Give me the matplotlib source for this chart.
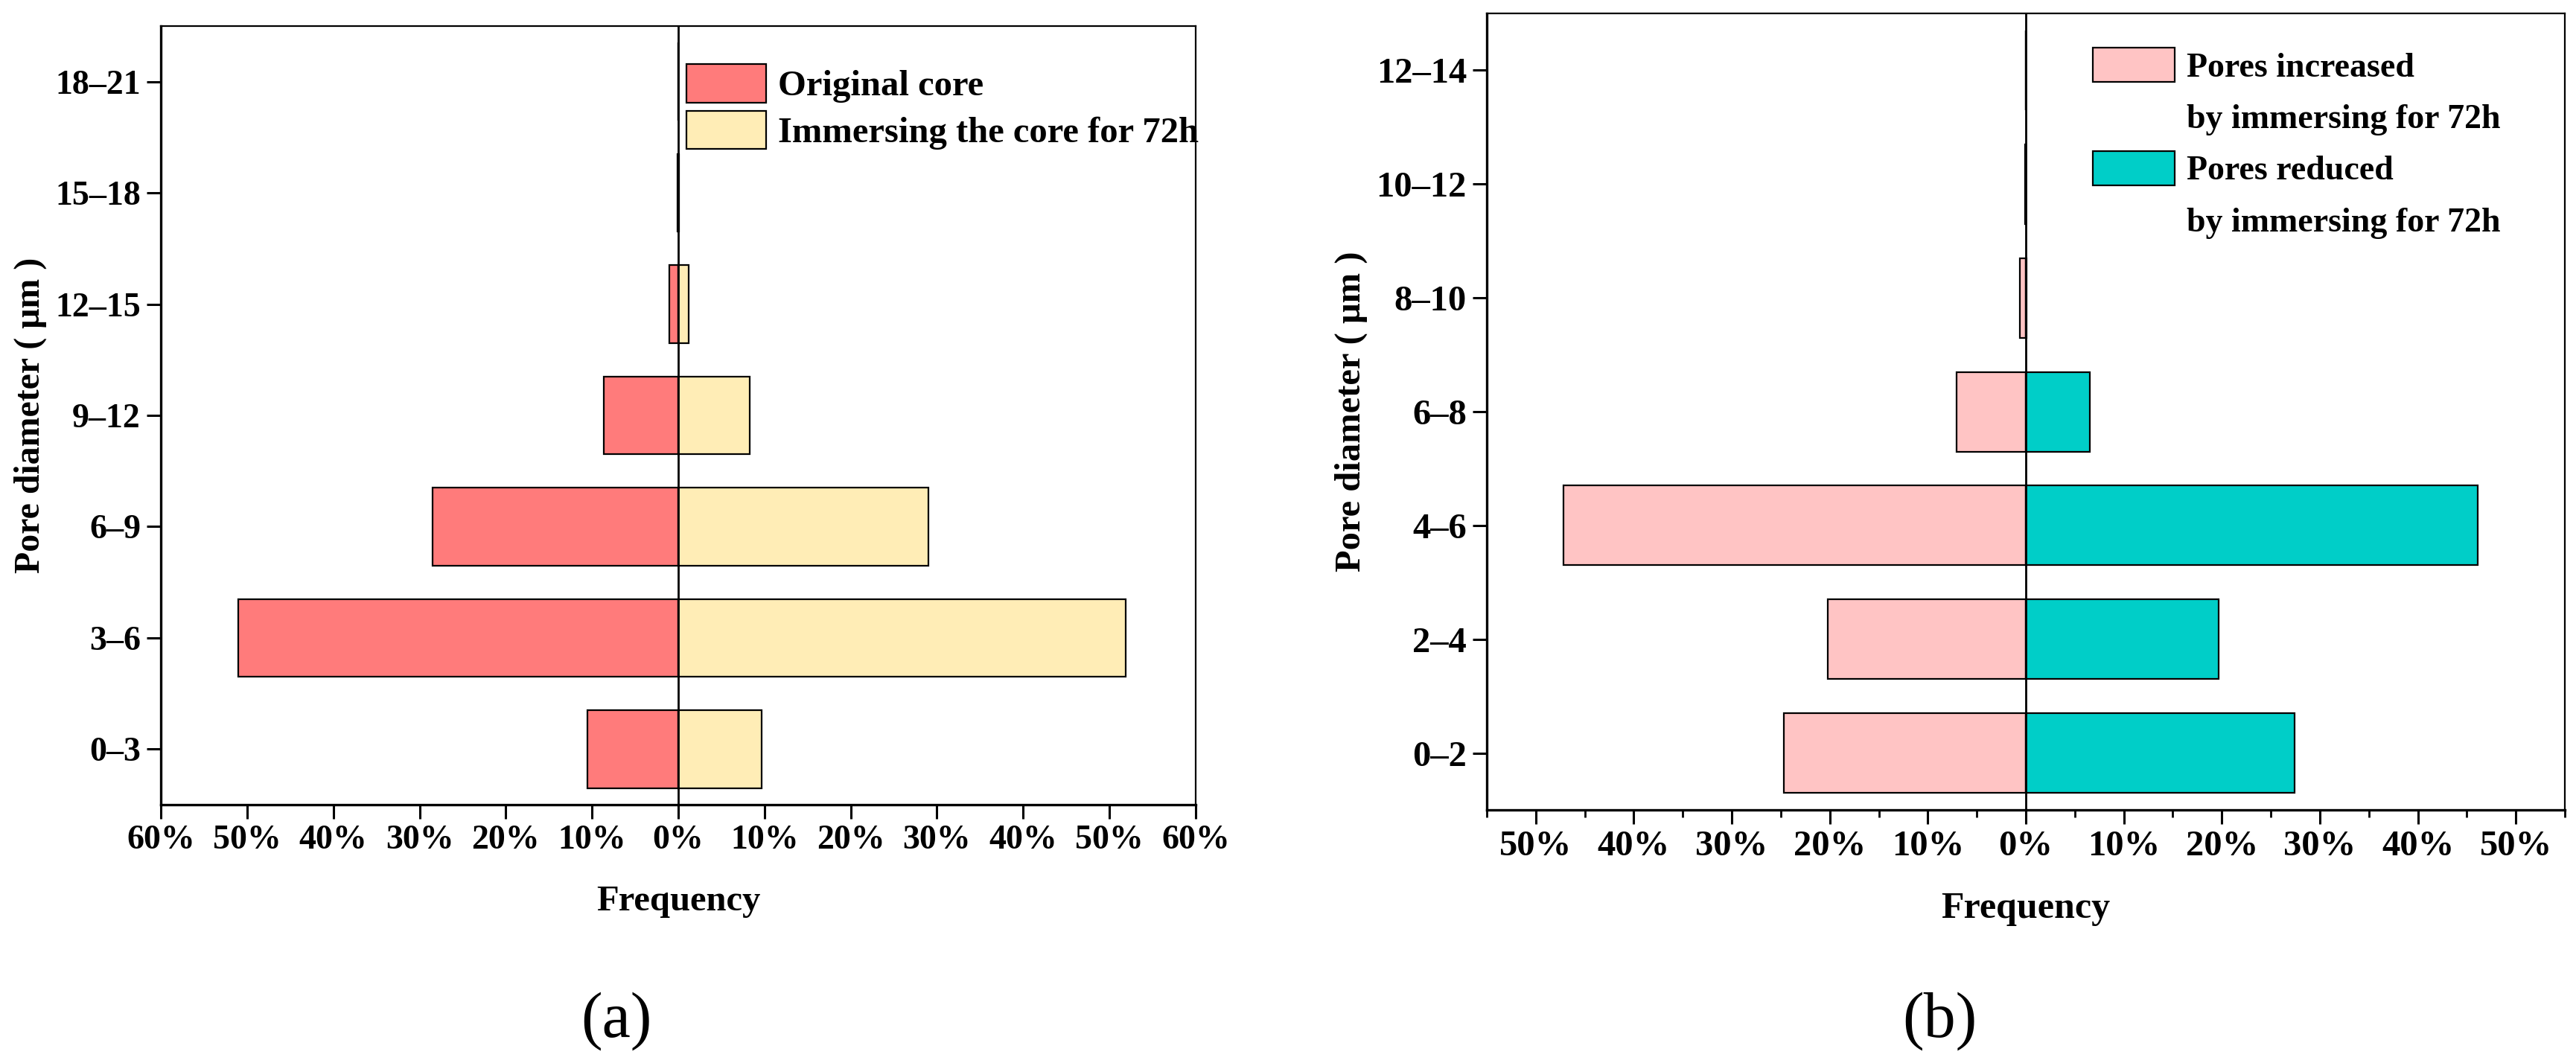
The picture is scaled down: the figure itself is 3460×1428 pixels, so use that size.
import matplotlib
matplotlib.use("Agg")
import matplotlib.pyplot as plt
import numpy as np
from matplotlib.ticker import FuncFormatter, MultipleLocator
from matplotlib.patches import Patch

# ---------------- data ----------------
a_categories = ['0–3', '3–6', '6–9', '9–12', '12–15', '15–18', '18–21']
a_original = [10.5, 51.0, 28.5, 8.6, 1.0, 0.1, 0.0]
a_immersed = [9.7, 51.9, 29.0, 8.3, 1.2, 0.1, 0.0]
a_labels = ['Original core', 'Immersing the core for 72h']

b_categories = ['0–2', '2–4', '4–6', '6–8', '8–10', '10–12', '12–14']
b_increased = [24.7, 20.2, 47.2, 7.1, 0.6, 0.05, 0.0]
b_reduced = [27.4, 19.7, 46.1, 6.5, 0.1, 0.0, 0.0]
b_labels = ['Pores increased', 'by immersing for 72h', 'Pores reduced', 'by immersing for 72h']

plt.rcParams['font.family'] = ['Liberation Serif', 'DejaVu Serif']
plt.rcParams['font.weight'] = 'bold'

W, H = 3460, 1428
fig = plt.figure(figsize=(W / 100, H / 100), dpi=100)

def px_axes(l, t, r, b):
    return fig.add_axes([l / W, 1 - b / H, (r - l) / W, (b - t) / H])

ax_a = px_axes(216, 35, 1606, 1081)
ax_b = px_axes(1997, 18, 3445, 1088)

pct = FuncFormatter(lambda v, p: f"{abs(v):.0f}%")

def style(ax, xlim, xtick_fs, ytick_fs, minor):
    ax.set_xlim(-xlim, xlim)
    ax.set_ylim(-0.5, 6.5)
    ax.xaxis.set_major_locator(MultipleLocator(10))
    if minor:
        ax.xaxis.set_minor_locator(MultipleLocator(5))
    ax.xaxis.set_major_formatter(pct)
    ax.tick_params(axis='both', which='major', direction='out', length=13.5, width=2.2,
                   pad=6, top=False, right=False)
    ax.tick_params(axis='x', which='minor', direction='out', length=7, width=2.0, top=False)
    ax.tick_params(axis='x', labelsize=xtick_fs)
    ax.tick_params(axis='y', labelsize=ytick_fs)
    for lab in ax.get_xticklabels() + ax.get_yticklabels():
        lab.set_fontweight('bold')
    for s in ['left', 'bottom']:
        ax.spines[s].set_linewidth(2.4)
    for s in ['top', 'right']:
        ax.spines[s].set_linewidth(1.6)
    ax.axvline(0, color='black', lw=2.0, zorder=3)

# ---------------- panel a ----------------
ya = np.arange(len(a_categories))
ax_a.barh(ya, [-v for v in a_original], height=0.7, color='#FF7B7B', edgecolor='black',
          linewidth=1.6, label=a_labels[0], zorder=2)
ax_a.barh(ya, a_immersed, height=0.7, color='#FFEDB6', edgecolor='black',
          linewidth=1.6, label=a_labels[1], zorder=2)
ax_a.set_yticks(ya)
ax_a.set_yticklabels(a_categories)
style(ax_a, 60, 33, 33, False)
ax_a.set_xlabel('Frequency', fontsize=35, fontweight='bold', labelpad=28)
ax_a.set_ylabel('Pore diameter ( μm )', fontsize=34.5, fontweight='bold', labelpad=8)
leg_a = ax_a.legend(loc='upper left', bbox_to_anchor=(0.508, 0.951), frameon=False,
                    fontsize=35, handlelength=2.2, handleheight=1.25, handletextpad=0.33,
                    labelspacing=0.22, borderpad=0, borderaxespad=0)
for h in leg_a.legend_handles:
    h.set_linewidth(1.6)

# ---------------- panel b ----------------
yb = np.arange(len(b_categories))
ax_b.barh(yb, [-v for v in b_increased], height=0.7, color='#FFC4C4', edgecolor='black',
          linewidth=1.6, zorder=2)
ax_b.barh(yb, b_reduced, height=0.7, color='#00CEC8', edgecolor='black',
          linewidth=1.6, zorder=2)
ax_b.set_yticks(yb)
ax_b.set_yticklabels(b_categories)
style(ax_b, 55, 35, 35, True)
ax_b.set_xlabel('Frequency', fontsize=36, fontweight='bold', labelpad=28)
ax_b.set_ylabel('Pore diameter ( μm )', fontsize=35, fontweight='bold', labelpad=8)

handles_b = [Patch(facecolor='#FFC4C4', edgecolor='black', linewidth=1.6),
             Patch(facecolor='none', edgecolor='none'),
             Patch(facecolor='#00CEC8', edgecolor='black', linewidth=1.6),
             Patch(facecolor='none', edgecolor='none')]
ax_b.legend(handles_b, b_labels, loc='upper left', bbox_to_anchor=(0.562, 0.957),
            frameon=False, fontsize=33, handlelength=2.4, handleheight=1.18,
            handletextpad=0.35, labelspacing=0.45, borderpad=0, borderaxespad=0)

# ---------------- panel captions ----------------
fig.text(828 / W, 1 - 1372 / H, '(a)', fontsize=62, fontweight='normal',
         ha='center', va='center')
fig.text(2605 / W, 1 - 1372 / H, '(b)', fontsize=62, fontweight='normal',
         ha='center', va='center')

fig.savefig('out.png', dpi=100, facecolor='white')
